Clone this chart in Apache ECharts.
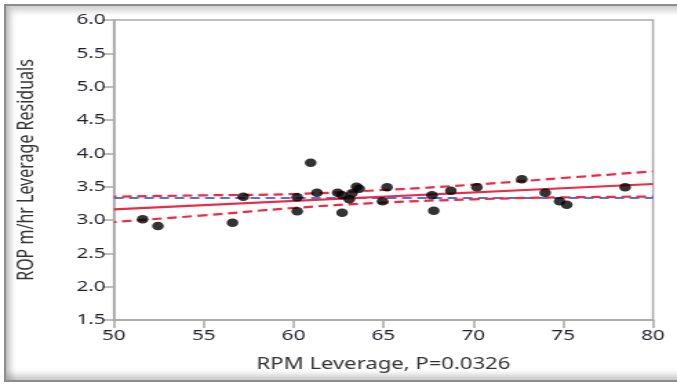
<!DOCTYPE html>
<html>
<head>
<meta charset="utf-8">
<script src="https://cdn.jsdelivr.net/npm/echarts@6/dist/echarts.min.js"></script>
<style>
  html, body { margin: 0; padding: 0; background: #fff; overflow: hidden; }
  #frame {
    position: absolute; left: 4px; top: 4px; width: 720px; height: 374px;
    border-left: 2px solid #8c8c8c; border-top: 2px solid #8c8c8c; border-bottom: 2px solid #8c8c8c;
    box-shadow: inset 5px 5px 6px rgba(0,0,0,0.18), inset 0 -5px 6px rgba(0,0,0,0.22);
    background: #fff;
  }
  /* the plot is laid out narrower and widened horizontally */
  #chart { position: absolute; left: 0; top: 0; width: 491px; height: 385px;
           transform: scaleX(1.3788); transform-origin: 0 0; }
</style>
</head>
<body>
<div id="frame"></div>
<div id="chart"></div>
<script>
// RPM leverage vs ROP leverage residuals
const rpmLeverage = [51.6, 52.45, 56.6, 57.2, 60.2, 60.2, 60.95, 61.3, 62.45, 62.7, 62.7, 63.1, 63.25,
                     63.5, 63.65, 64.95, 65.2, 67.7, 67.8, 68.75, 70.2, 72.7, 74.0, 74.8, 75.2, 78.45];
const ropResiduals = [3.01, 2.91, 2.96, 3.35, 3.34, 3.13, 3.86, 3.41, 3.41, 3.37, 3.11, 3.31, 3.40,
                      3.50, 3.47, 3.28, 3.49, 3.37, 3.14, 3.44, 3.49, 3.61, 3.41, 3.28, 3.23, 3.49];

// least-squares fit, confidence band and mean line
const fitX = [50, 80];
const fitY = [3.16, 3.54];
const meanY = 3.33;
const bandX = [50, 55, 60, 65, 70, 75, 80];
const bandUpper = [3.35, 3.37, 3.39, 3.45, 3.53, 3.63, 3.73];
const bandLower = [2.97, 3.07, 3.18, 3.26, 3.31, 3.34, 3.35];

const xTicks = [50, 55, 60, 65, 70, 75, 80];
const yTicks = [1.5, 2.0, 2.5, 3.0, 3.5, 4.0, 4.5, 5.0, 5.5, 6.0];

const pair = (xs, ys) => xs.map((x, i) => [x, ys[i]]);
const RED = '#ee2a44', BLUE = '#4f72e6', AXIS = '#a8a8a8';
const FONT = 'Noto Sans';

const chart = echarts.init(document.getElementById('chart'), null, { renderer: 'canvas' });
chart.setOption({
  animation: false,
  backgroundColor: 'transparent',
  grid: { left: 82.6, right: 17.4, top: 20, bottom: 65, show: true, borderColor: AXIS, borderWidth: 1.5, backgroundColor: '#fff' },
  xAxis: {
    type: 'value', min: xTicks[0], max: xTicks[xTicks.length - 1], interval: 5,
    name: 'RPM Leverage, P=0.0326', nameLocation: 'middle', nameGap: 36,
    nameTextStyle: { fontFamily: FONT, fontSize: 16, color: '#333' },
    axisLine: { lineStyle: { color: AXIS, width: 1.5 } },
    axisTick: { length: 8, lineStyle: { color: AXIS, width: 1.5 } },
    axisLabel: { fontFamily: FONT, fontSize: 15, color: '#1f1f2a', margin: 8 },
    splitLine: { show: false }
  },
  yAxis: {
    type: 'value', min: yTicks[0], max: yTicks[yTicks.length - 1], interval: 0.5,
    name: 'ROP m/hr Leverage Residuals', nameLocation: 'middle', nameGap: 55, nameRotate: 90,
    nameTextStyle: { fontFamily: FONT, fontSize: 16, color: '#333' },
    axisLine: { show: true, lineStyle: { color: AXIS, width: 1.5 } },
    axisTick: { show: true, length: 8, lineStyle: { color: AXIS, width: 1.5 } },
    axisLabel: { fontFamily: FONT, fontSize: 15, color: '#1f1f2a', margin: 6,
                 formatter: v => v.toFixed(1) },
    splitLine: { show: false }
  },
  series: [
    { type: 'line', data: [[fitX[0], meanY], [fitX[1], meanY]], showSymbol: false, silent: true,
      lineStyle: { color: BLUE, width: 2.2, type: [7, 4] }, z: 2 },
    { type: 'line', data: pair(bandX, bandUpper), smooth: true, showSymbol: false, silent: true,
      lineStyle: { color: RED, width: 2.2, type: [7, 4], dashOffset: 5 }, z: 3 },
    { type: 'line', data: pair(bandX, bandLower), smooth: true, showSymbol: false, silent: true,
      lineStyle: { color: RED, width: 2.2, type: [7, 4], dashOffset: 5 }, z: 3 },
    { type: 'line', data: pair(fitX, fitY), showSymbol: false, silent: true,
      lineStyle: { color: RED, width: 2.2 }, z: 4 },
    { type: 'scatter', data: pair(rpmLeverage, ropResiduals), symbolSize: 8.5,
      itemStyle: { color: '#000' }, z: 5 }
  ]
});
</script>
</body>
</html>
